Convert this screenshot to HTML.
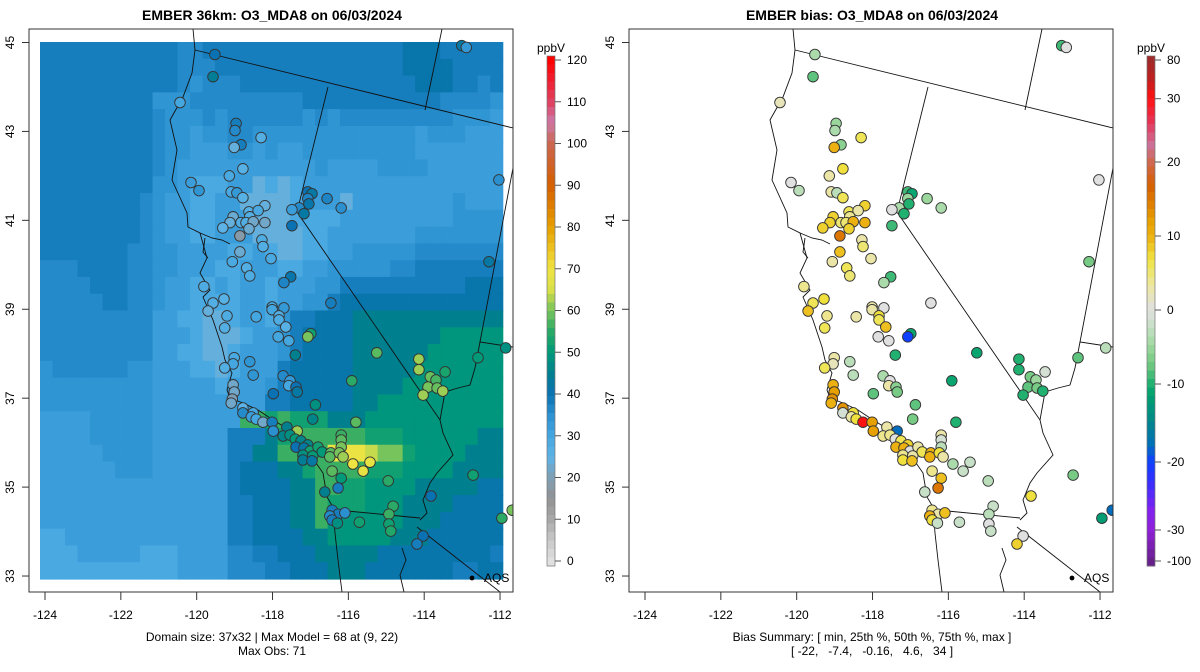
<!DOCTYPE html>
<html><head><meta charset="utf-8">
<style>
html,body{margin:0;padding:0;background:#fff;}
svg{display:block;font-family:"Liberation Sans",Arial,sans-serif;}
</style></head>
<body>
<svg id="root" width="1200" height="672" viewBox="0 0 1200 672" xmlns="http://www.w3.org/2000/svg">
<defs>
<clipPath id="clipL"><rect x="29" y="29" width="484" height="563"/></clipPath>
<clipPath id="clipR"><rect x="629" y="29" width="484" height="563"/></clipPath>
</defs>
<text x="272" y="20" text-anchor="middle" font-size="14" font-weight="bold">EMBER 36km: O3_MDA8 on 06/03/2024</text>
<text x="872" y="20" text-anchor="middle" font-size="14" font-weight="bold">EMBER bias: O3_MDA8 on 06/03/2024</text>
<g id="left"></g>
<g id="right"></g>
<g id="cbL"></g>
<g id="cbR"></g>
<text x="272" y="641" text-anchor="middle" font-size="12">Domain size: 37x32 | Max Model = 68 at (9, 22)</text>
<text x="272" y="655" text-anchor="middle" font-size="12">Max Obs: 71</text>
<text x="872" y="641" text-anchor="middle" font-size="12">Bias Summary: [ min, 25th %, 50th %, 75th %, max ]</text>
<text x="872" y="655" text-anchor="middle" font-size="12" xml:space="preserve">[ -22,   -7.4,   -0.16,   4.6,   34 ]</text>
</svg>
<script>
// ---- data ----
const gridCodes = [
"1111111111122111111111111111100011111",
"1111111111122211111111111111100001111",
"1111111111123222111111111111110001121",
"1111111113332222222221111111111122223",
"1111111112333232222223232222222223334",
"1111111112334332233333333333334333444",
"1111111112334443343443333333334444444",
"1111111112344444444444344443333444444",
"1111111113345554465654444444444444444",
"1111111123445544666654446444444443444",
"1111111123445544466655554444444443333",
"1111111123445544466665544444443333333",
"1111111223344445545665544333332222222",
"2221111223344455444554433333221111111",
"2222111223445545445444331111111111000",
"2222211223445555445443310000000000000",
"2222222224455665445311000777777777777",
"2222222224445666544310000777777788888",
"2222222224455665444310000777777888888",
"3222222334445565444100000777778888888",
"3333333334444454443100000777788888888",
"3333333334444444441100000778888888888",
"4444333334444444gg9g99977788888888888",
"444433333444444111799ggggg99988888877",
"4444433334444441177ggggyyylhh98888777",
"4444443334444441000779gggg99988887777",
"4444444444444441000077gg9988887777700",
"4444444444444441100077g99988877770000",
"4444444444444441100077g88888877700000",
"5544444444444441100007788888777000000",
"5554444455544442211000777770000000001",
"5555555555544442221100077700000001100"];
const codeValue = {"0":41,"1":38,"2":36,"3":34,"4":32,"5":29,"6":24,"7":45,"8":49,"9":52,"g":56,"h":60,"l":64,"y":69};
const stLon = [-120.44,-118.96,-118.99,-118.83,-119.01,-118.30,-118.78,-119.14,-120.15,-119.94,-119.09,-118.94,-118.78,-117.07,-116.96,-117.07,-116.56,-116.19,-117.04,-117.30,-117.49,-117.17,-117.49,-118.20,-118.62,-118.38,-119.04,-118.60,-119.12,-118.83,-118.70,-118.51,-118.20,-119.31,-118.62,-118.86,-118.28,-118.25,-118.86,-119.06,-118.04,-118.68,-118.60,-117.52,-117.70,-119.81,-119.57,-119.28,-119.70,-119.20,-119.26,-118.43,-118.01,-118.01,-117.70,-117.83,-117.83,-117.65,-116.46,-116.99,-117.07,-117.85,-117.57,-119.01,-119.04,-119.26,-118.60,-118.51,-117.72,-117.54,-117.57,-117.38,-117.35,-117.98,-117.40,-115.25,-115.91,-116.87,-116.94,-115.80,-114.14,-114.14,-113.84,-113.69,-113.90,-113.66,-113.51,-114.03,-113.45,-119.04,-119.01,-119.06,-119.09,-118.78,-118.78,-118.51,-118.56,-118.43,-118.25,-118.01,-117.98,-117.62,-117.35,-117.72,-117.54,-117.40,-117.25,-117.07,-117.38,-117.17,-117.01,-116.80,-116.69,-117.20,-116.94,-117.20,-116.96,-116.19,-116.19,-116.19,-116.46,-116.49,-116.24,-116.14,-115.88,-115.61,-115.43,-116.43,-116.19,-116.27,-114.95,-116.62,-113.82,-116.43,-116.27,-116.09,-116.49,-116.43,-116.29,-115.71,-114.82,-114.93,-114.93,-114.88,-114.03,-119.52,-119.57,-113.01,-112.89,-112.03,-112.29,-112.58,-112.71,-111.85,-111.95,-111.68,-114.19];
const stLat = [43.65,43.18,43.02,42.70,42.64,42.86,42.16,42.00,41.85,41.67,41.64,41.62,41.51,41.64,41.60,41.49,41.49,41.28,41.37,41.28,41.24,41.15,40.88,41.33,41.19,41.22,41.08,41.08,40.95,40.95,40.95,40.97,40.95,40.83,40.81,40.65,40.56,40.41,40.29,40.07,40.14,39.93,39.75,39.73,39.60,39.51,39.14,39.23,38.96,38.85,38.58,38.83,39.05,38.99,39.03,38.85,38.76,38.60,39.14,38.45,38.38,38.38,38.29,37.91,37.77,37.68,37.82,37.52,37.50,37.39,37.28,37.25,37.14,37.10,37.97,38.02,37.39,36.85,36.53,36.46,37.88,37.64,37.48,37.41,37.25,37.23,37.16,37.07,37.59,37.30,37.14,36.98,36.89,36.78,36.67,36.67,36.58,36.53,36.46,36.46,36.26,36.35,36.26,36.15,36.17,36.08,36.04,35.95,35.90,35.88,35.81,35.90,35.79,35.72,35.70,35.61,35.59,36.17,36.06,35.90,35.77,35.68,35.77,35.68,35.52,35.36,35.56,35.36,35.20,34.98,35.14,34.89,34.80,34.48,34.39,34.42,34.35,34.26,34.19,34.21,34.57,34.39,34.17,34.01,33.90,44.73,44.23,44.93,44.89,41.91,40.07,37.91,35.27,38.13,34.30,34.48,33.72];
const obsVal = [30,38,36,38,24,27,26,29,32,34,29,33,26,40,42,37,37,35,41,36,32,42,40,24,26,29,23,27,24,27,27,22,22,25,23,18,28,27,23,29,29,27,28,41,37,28,27,26,24,28,27,30,30,30,33,27,28,26,38,52,60,30,30,29,30,27,34,34,36,33,30,40,42,40,45,58,55,48,46,58,62,62,59,57,60,59,62,62,53,22,22,20,22,25,36,30,32,30,22,38,35,45,62,46,48,50,46,46,40,42,52,52,50,48,50,44,42,56,58,60,58,58,60,62,70,68,68,58,50,38,55,45,40,38,38,35,36,38,48,52,55,56,52,54,40,40,44,42,33,35,42,50,52,48,55,60,38];
const biasVal = [2,-5,-4,-6,10,6,7,3,0,-3,3,-3,6,-9,-11,-5,-5,-4,-10,-4,0,-10,-9,8,6,3,8,4,8,5,5,10,10,8,8,15,3,5,9,3,3,6,5,-9,-4,4,6,7,9,4,6,3,3,3,0,7,6,9,0,-11,-20,0,0,3,2,6,-3,-3,-4,0,3,-6,-7,-8,-10,-11,-11,-8,-7,-10,-10,-10,-7,-5,-8,-7,-10,-10,-1,10,12,13,10,13,-1,7,3,7,30,12,12,3,-18,4,4,0,6,8,10,10,0,3,6,4,3,7,9,3,-1,-3,10,10,7,3,-4,-2,-2,4,9,15,-3,-2,7,4,3,9,10,7,-2,-2,-2,-3,0,-2,0,-4,-8,-9,0,0,-7,-8,-7,-3,-12,-18,8];
const obsTicks = [0,10,20,30,40,50,60,70,80,90,100,110,120];
const biasTicks = [80,30,20,10,0,-10,-20,-30,-100];
const lonTicks = [-124,-122,-120,-118,-116,-114,-112];
const latTicks = [33,35,37,39,41,43,45];

// ---- scales ----
const NS="http://www.w3.org/2000/svg";
function xMap(lon,off){return off+45+(lon+124)*37.92;}
function yMap(lat){return 42.5+(45-lat)*44.46;}
function hex(c){return [parseInt(c.slice(1,3),16),parseInt(c.slice(3,5),16),parseInt(c.slice(5,7),16)];}
function lerpStops(stops,v){
  if(v<=stops[0][0])return stops[0][1];
  for(let i=1;i<stops.length;i++){if(v<=stops[i][0]){const a=stops[i-1],b=stops[i];const t=(v-a[0])/(b[0]-a[0]);const A=hex(a[1]),B=hex(b[1]);return 'rgb('+A.map((x,k)=>Math.round(x+(B[k]-x)*t)).join(',')+')';}}
  return stops[stops.length-1][1];
}
const obsStops=[[0,"#e0e0e0"],[5,"#c8c8c8"],[10,"#a8a8a8"],[15,"#929292"],[20,"#7f9fb5"],[25,"#5db3e6"],[30,"#45a7e0"],[35,"#2b90d0"],[40,"#0a72b2"],[45,"#00808f"],[50,"#009a78"],[55,"#2aaa66"],[60,"#78c45c"],[65,"#d8e048"],[70,"#f0e442"],[75,"#ecc020"],[80,"#e69f00"],[90,"#d55e00"],[100,"#cc6650"],[105,"#cc79a7"],[110,"#e04060"],[120,"#ff0000"]];
function obsColor(v){return lerpStops(obsStops,v);}
function obsY(v){return 561-(v/120)*(561-60);}
const biasTickY=[60,98.7,162,236,310,384,462,530,561];
function biasY(v){for(let i=1;i<biasTicks.length;i++){if(v>=biasTicks[i]){const t=(v-biasTicks[i-1])/(biasTicks[i]-biasTicks[i-1]);return biasTickY[i-1]+t*(biasTickY[i]-biasTickY[i-1]);}}return 561;}
const barStops=[[56,"#9a2b2b"],[80,"#c02020"],[98,"#ff1010"],[120,"#e83050"],[145,"#cc7098"],[162,"#d06850"],[185,"#d55e00"],[205,"#e08000"],[220,"#e69f00"],[236,"#ecb010"],[260,"#f0e442"],[285,"#ece7a0"],[310,"#e0e0e0"],[325,"#c8e0c8"],[345,"#a0d8a0"],[365,"#70c880"],[384,"#20b070"],[395,"#00a070"],[420,"#008888"],[445,"#0070b8"],[462,"#1040ff"],[480,"#3030ff"],[510,"#8020f0"],[530,"#9020d8"],[566,"#602080"]];
function biasColor(v){return lerpStops(barStops,biasY(v));}

function el(tag,attrs,parent){const e=document.createElementNS(NS,tag);for(const k in attrs)e.setAttribute(k,attrs[k]);parent.appendChild(e);return e;}

// ---- basemap (geographic outlines, left-panel pixel frame) ----
const basemap=[
 "M193,29 L195,50 L192,73 L183,97 L170,120 L177,150 L172,180 L187,213 L188,227 L200,233 L207,258 L200,273 L210,290 L203,297 L213,320 L222,347 L225,360 L232,373 L227,390 L230,398 L243,403 L258,410 L273,420 L293,432 L307,450 L323,473 L327,497 L333,507 L335,533 L338,560 L342,592",
 "M200,233 L212,238 L222,240 L230,244 M205,238 L203,252 L208,258",
 "M195,50 L513,128",
 "M328,87 L297,212 L440,420 L443,433 L453,455 L437,473 L430,483 L423,500 L427,513 L420,520",
 "M337,510 L420,518",
 "M417,527 L500,592",
 "M442,29 L425,110",
 "M513,168 L480,342 L513,347",
 "M480,342 L475,368 L470,385 L458,388 L445,392 L440,420",
 "M402,548 L406,560 L400,575 L404,592"
];

function panel(g,off,clip,isBias){
  el('rect',{x:off+29,y:29,width:484,height:563,fill:'#fff',stroke:'none'},g);
  const inner=el('g',{'clip-path':'url(#'+clip+')'},g);
  if(!isBias){
    const cw=462.7/37,ch=537/32;
    const grid=el('g',{},inner);
    
    
    gridCodes.forEach((row,j)=>{
      for(let i=0;i<37;i++){
        const c=row[Math.min(i,row.length-1)];
        el('rect',{x:(off+40+i*cw).toFixed(2),y:(42+j*ch).toFixed(2),width:(cw+0.6).toFixed(2),height:(ch+0.6).toFixed(2),fill:obsColor(codeValue[c])},grid);
      }
    });
  }
  const bm=el('g',{transform:'translate('+off+',0)',fill:'none',stroke:'#111','stroke-width':0.9},inner);
  
  
  basemap.forEach(d=>el('path',{d:d},bm));
  const pts=el('g',{},inner);
  
  
  for(let k=0;k<stLon.length;k++){
    const c=el('circle',{cx:xMap(stLon[k],off).toFixed(1),cy:yMap(stLat[k]).toFixed(1),r:5.3,fill:isBias?biasColor(biasVal[k]):obsColor(obsVal[k]),stroke:'#333','stroke-width':0.9},pts);
    
    
  }
  el('circle',{cx:off+472,cy:578,r:2.4,fill:'#000'},g);
  const aq=el('text',{x:off+484,y:582,'font-size':12},g);
  aq.textContent='AQS';
  
  
  const fr=el('rect',{x:off+29,y:29,width:484,height:563,fill:'none',stroke:'#333','stroke-width':1},g);
  
  
  lonTicks.forEach(t=>{
    const x=xMap(t,off);
    el('line',{x1:x,y1:592,x2:x,y2:600,stroke:'#333'},g);
    const tx=el('text',{x:x,y:619,'text-anchor':'middle','font-size':12},g);
    tx.textContent=String(t);
    
    
  });
  latTicks.forEach(t=>{
    const y=yMap(t);
    el('line',{x1:off+22,y1:y,x2:off+29,y2:y,stroke:'#333'},g);
    const tx=el('text',{x:off+14,y:y,'text-anchor':'middle','font-size':12,transform:'rotate(-90 '+(off+14)+' '+y+')'},g);
    tx.textContent=String(t);
    
    
  });
}
panel(document.getElementById('left'),0,'clipL',false);
panel(document.getElementById('right'),600,'clipR',true);

// ---- colorbars ----
function colorbar(g,x0,isBias){
  const t=el('text',{x:x0+4,y:52,'text-anchor':'middle','font-size':12},g);
  t.textContent='ppbV';
  
  
  const n=60,top=56,bot=566,h=(bot-top)/n;
  for(let i=0;i<n;i++){
    const y=top+i*h, ym=y+h/2;
    const col=isBias?lerpStops(barStops,ym):obsColor(Math.max(0,Math.min(120,(561-ym)/(501)*120)));
    el('rect',{x:x0,y:y.toFixed(2),width:8,height:(h+0.5).toFixed(2),fill:col},g);
  }
  el('rect',{x:x0,y:top,width:8,height:bot-top,fill:'none',stroke:'#777','stroke-width':0.7},g);
  const ticks=isBias?biasTicks:obsTicks;
  ticks.forEach((v,i)=>{
    const y=isBias?biasTickY[i]:obsY(v);
    el('line',{x1:x0+8,y1:y,x2:x0+14,y2:y,stroke:'#555'},g);
    const tx=el('text',{x:x0+20,y:y+4,'font-size':12},g);
    tx.textContent=String(v);
    
    
  });
}
colorbar(document.getElementById('cbL'),547,false);
colorbar(document.getElementById('cbR'),1147,true);
</script>
</body></html>
